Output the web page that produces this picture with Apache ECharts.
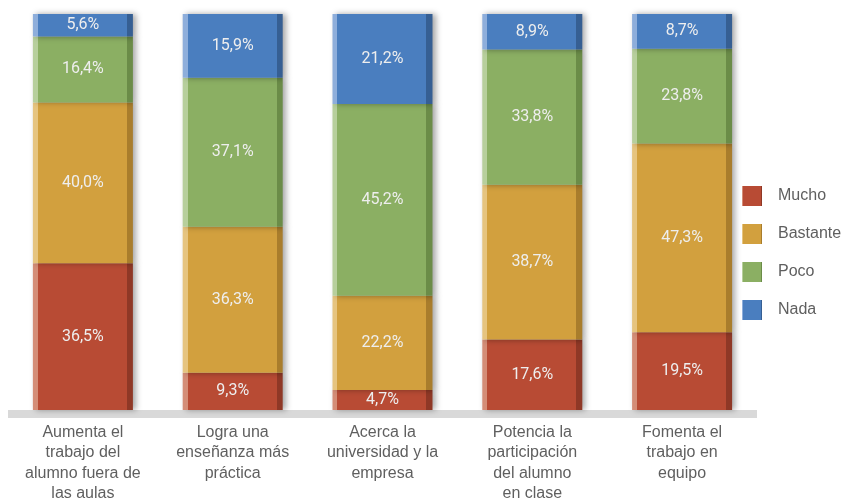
<!DOCTYPE html>
<html>
<head>
<meta charset="utf-8">
<script src="https://cdn.jsdelivr.net/npm/echarts@6/dist/echarts.min.js"></script>
<style>
  html, body { margin: 0; padding: 0; background: #fff; }
  #chart { width: 841px; height: 501px; }
</style>
</head>
<body>
<div id="chart"></div>
<script>
const categories = [
  'Aumenta el\ntrabajo del\nalumno fuera de\nlas aulas',
  'Logra una\nenseñanza más\npráctica',
  'Acerca la\nuniversidad y la\nempresa',
  'Potencia la\nparticipación\ndel alumno\nen clase',
  'Fomenta el\ntrabajo en\nequipo'
]
const mucho = [36.5, 9.3, 4.7, 17.6, 19.5]
const bastante = [40.0, 36.3, 22.2, 38.7, 47.3]
const poco = [16.4, 37.1, 45.2, 33.8, 23.8]
const nada = [5.6, 15.9, 21.2, 8.9, 8.7]

const seriesDefs = [
  { name: 'Mucho', data: mucho, color: '#b84b34', light: '#d48d77', dark: '#8f3826' },
  { name: 'Bastante', data: bastante, color: '#d2a03e', light: '#e6c47f', dark: '#a97d2c' },
  { name: 'Poco', data: poco, color: '#8baf63', light: '#b7cf9c', dark: '#6b8c48' },
  { name: 'Nada', data: nada, color: '#4a7ebf', light: '#8eaedb', dark: '#365f93' }
]

// totales por barra (el gráfico está normalizado al 100%)
const totals = categories.map((_, i) =>
  seriesDefs.reduce((s, d) => s + d.data[i], 0)
)

const fmt = (v) => v.toFixed(1).replace('.', ',') + '%'

const W = 841, H = 501
const grid = { left: 8, right: 84, top: 14, bottom: 91 }

const chart = echarts.init(document.getElementById('chart'))

const option = {
  animation: false,
  textStyle: { fontFamily: '"Liberation Sans", Arial, sans-serif' },
  grid: { ...grid, outerBoundsMode: 'none', containLabel: false },
  // "suelo" gris bajo las barras
  graphic: [{
    type: 'rect',
    z: 0,
    shape: { x: grid.left, y: H - grid.bottom, width: W - grid.left - grid.right, height: 8 },
    style: { fill: '#d9d9d9' }
  }],
  legend: {
    orient: 'vertical',
    left: 742,
    top: 186,
    padding: 0,
    itemWidth: 20,
    itemHeight: 20,
    itemGap: 18,
    icon: 'rect',
    textStyle: { color: '#5f5f5f', fontSize: 16, padding: [0, 0, 0, 11] },
    data: seriesDefs.map((d) => d.name)
  },
  xAxis: {
    type: 'category',
    data: categories,
    axisLine: { show: false },
    axisTick: { show: false },
    axisLabel: {
      color: '#5f5f5f',
      fontSize: 16,
      lineHeight: 20.5,
      margin: 12,
      interval: 0
    }
  },
  yAxis: {
    type: 'value',
    min: 0,
    max: 100,
    show: false,
    splitLine: { show: false }
  },
  series: seriesDefs.map((d) => ({
    name: d.name,
    type: 'bar',
    stack: 'total',
    barWidth: 100,
    data: d.data.map((v, i) => ({ value: (v / totals[i]) * 100, raw: v })),
    itemStyle: {
      color: {
        type: 'linear', x: 0, y: 0, x2: 1, y2: 0,
        colorStops: [
          { offset: 0, color: d.light },
          { offset: 0.05, color: d.light },
          { offset: 0.05, color: d.color },
          { offset: 0.94, color: d.color },
          { offset: 0.94, color: d.dark },
          { offset: 1, color: d.dark }
        ]
      },
      shadowColor: 'rgba(0,0,0,0.35)',
      shadowBlur: 6,
      shadowOffsetX: 3
    },
    label: {
      show: true,
      position: 'inside',
      color: '#eeeeee',
      fontFamily: 'Roboto, sans-serif',
      fontSize: 16,
      formatter: (p) => fmt(p.data.raw)
    }
  }))
}

chart.setOption(option)
</script>
</body>
</html>
